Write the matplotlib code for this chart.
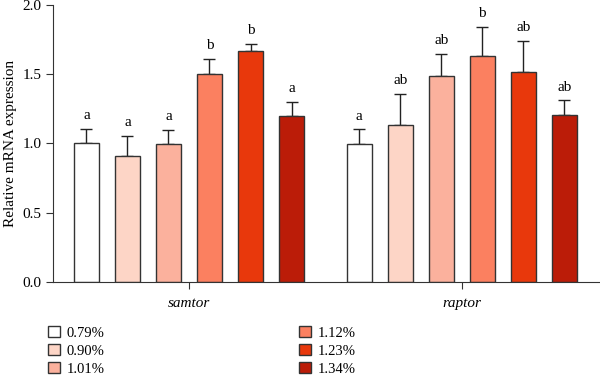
import numpy as np
import matplotlib
matplotlib.use("Agg")
import matplotlib.pyplot as plt
from matplotlib.patches import Patch

# Data
genes = ["samtor", "raptor"]
levels = ["0.79%", "0.90%", "1.01%", "1.12%", "1.23%", "1.34%"]
colors = ["#ffffff", "#fdd5c6", "#fbb19d", "#fb8060", "#e8380c", "#bb1c08"]

samtor_mean = [1.00, 0.906, 0.993, 1.50, 1.667, 1.197]
samtor_err = [0.103, 0.149, 0.105, 0.111, 0.048, 0.103]
samtor_sig = ["a", "a", "a", "b", "b", "a"]

raptor_mean = [0.995, 1.13, 1.486, 1.628, 1.515, 1.204]
raptor_err = [0.106, 0.228, 0.159, 0.214, 0.224, 0.106]
raptor_sig = ["a", "ab", "ab", "b", "ab", "ab"]

plt.rcParams["font.family"] = ["Liberation Serif", "DejaVu Serif"]

fig = plt.figure(figsize=(6, 3.75), dpi=100)
ax = fig.add_axes([0.088, 0.248, 0.912, 0.739])

group_offset = [0.0, 6.65]
width = 0.61
series = [
    (samtor_mean, samtor_err, samtor_sig),
    (raptor_mean, raptor_err, raptor_sig),
]

for g, (means, errs, sigs) in enumerate(series):
    x = np.arange(len(means)) + group_offset[g]
    ax.bar(x, means, width=width, color=colors, edgecolor="#333333",
           linewidth=1.0, zorder=2)
    ax.errorbar(x, means, yerr=[np.zeros(len(errs)), errs], fmt="none",
                ecolor="#222222", elinewidth=1.0, capsize=4, capthick=1.0,
                zorder=1)
    for xi, m, e, s in zip(x, means, errs, sigs):
        ax.text(xi, m + e + 0.05, s, ha="center", va="bottom", fontsize=11)

centers = [group_offset[g] + 2.5 for g in range(len(genes))]
ax.set_xticks(centers)
ax.set_xticklabels(genes, fontstyle="italic", fontsize=11)
ax.set_xlim(-0.82, 12.52)
ax.set_ylim(0, 2.0)
ax.set_yticks([0, 0.5, 1.0, 1.5, 2.0])
ax.set_yticklabels(["0.0", "0.5", "1.0", "1.5", "2.0"], fontsize=11)
ax.set_ylabel("Relative mRNA expression", fontsize=11, labelpad=4)
ax.spines["top"].set_visible(False)
ax.spines["right"].set_visible(False)
for side in ["left", "bottom"]:
    ax.spines[side].set_color("#333333")
ax.tick_params(axis="both", direction="out", length=5, color="#333333",
               pad=3)
ax.tick_params(axis="x", pad=6)

handles = [Patch(facecolor=c, edgecolor="#333333", linewidth=1.0, label=l)
           for c, l in zip(colors, levels)]
fig.legend(handles=handles, ncol=2, loc="upper left",
           bbox_to_anchor=(0.08, 0.131), frameon=False, fontsize=10.5,
           borderpad=0, borderaxespad=0,
           handlelength=0.8, handleheight=0.8, handletextpad=0.5,
           labelspacing=0.3, columnspacing=13.3)

fig.savefig("out.png", dpi=100)
